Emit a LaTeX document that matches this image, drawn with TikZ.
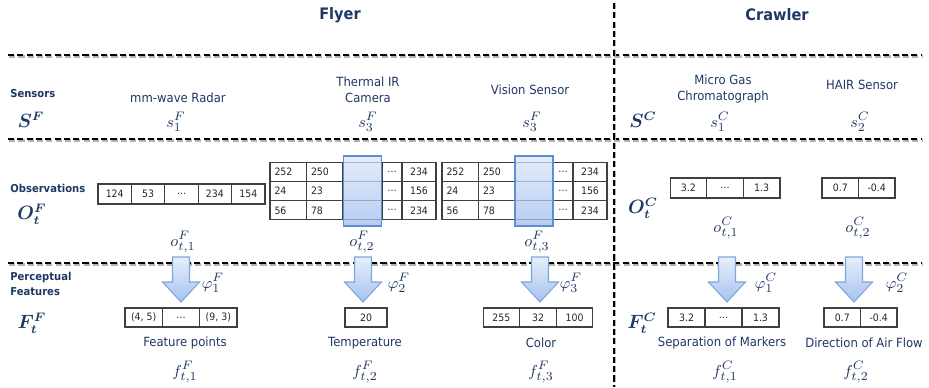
\documentclass[tikz,border=0pt]{standalone}
\usepackage{fontspec}
\setmainfont{DejaVu Sans}[FakeStretch=0.92]
\usepackage{bm}
\usepackage{xcolor}
\usetikzlibrary{arrows.meta,positioning,matrix}

\definecolor{navy}{HTML}{1F3864}
\definecolor{cellline}{HTML}{404040}
\definecolor{hltop}{HTML}{DCE6F8}
\definecolor{hlbot}{HTML}{9DBDEE}
\definecolor{hlline}{HTML}{5E8FD6}
\definecolor{arrtop}{HTML}{E6EEFA}
\definecolor{arrbot}{HTML}{A6C3EE}
\definecolor{arrline}{HTML}{7EA6DD}

\begin{document}
\begin{tikzpicture}[x=0.02cm, y=-0.02cm,
  every node/.style={text=navy, font=\fontsize{7.2}{9}\selectfont},
  head/.style={font=\fontsize{9}{11}\selectfont\bfseries},
  rowlbl/.style={font=\fontsize{6.2}{8.4}\selectfont\bfseries, anchor=west, align=left, inner sep=0pt},
  sym/.style={font=\fontsize{9.5}{10}\selectfont, inner sep=0.5pt},
  bigsym/.style={font=\fontsize{10.5}{12}\selectfont, inner sep=0.5pt},
  sep/.style={line width=1.4pt, dash pattern=on 3.5pt off 1.8pt},
  valrow/.style={matrix of nodes, column sep=-0.6pt, row sep=-0.6pt,
    nodes={draw=cellline, line width=0.6pt, text=black!85, font=\fontsize{5.8}{6.5}\selectfont,
      minimum height=0.4cm, minimum width=#1, inner sep=0pt, anchor=center}},
  leftcol/.style={nodes={text width=0.55cm, inner xsep=0.09cm, align=left}},
  hilite/.style={draw=hlline, line width=0.6pt, top color=hltop, bottom color=hlbot,
    fill opacity=0.75, minimum width=0.76cm, minimum height=1.4cm, inner sep=0pt},
  featarrow/.style={draw=arrline, line width=0.6pt, top color=arrtop, bottom color=arrbot}
]
\useasboundingbox (0,0) rectangle (929,387);

% separators
\foreach \yy in {55,139,263} {
  \draw[sep, black!30, xshift=0.6pt, yshift=-0.8pt] (8,\yy) -- (922,\yy);
  \draw[sep] (8,\yy) -- (922,\yy);
}
\draw[sep, black!30, xshift=0.6pt] (614,3) -- (614,387);
\draw[sep] (614,3) -- (614,387);

% titles
\node[head] (flyer) at (340,15) {Flyer};
\node[head] (crawler) at (777,15) {Crawler};

% sensors
\node[rowlbl] (senslbl) at (10,94) {Sensors};
\node[bigsym] (sensF) at (31,120) {$\bm{S^F}$};
\node (radarname) at (178,98) {mm-wave Radar};
\node (thermname) at (368,90) [align=center] {Thermal IR\\Camera};
\node (visname) at (530,90) {Vision Sensor};
\node (gasname) at (723,89) [align=center] {Micro Gas\\Chromatograph};
\node (hairname) at (862,85) {HAIR Sensor};
\node[sym] (radarsym) at (176,122) {$s_1^F$};
\node[sym] (thermsym) at (368,122) {$s_3^F$};
\node[sym] (vissym) at (532,122) {$s_3^F$};
\node[bigsym] (sensC) at (643,120) {$\bm{S^C}$};
\node[sym] (gassym) at (720,122) {$s_1^C$};
\node[sym] (hairsym) at (860,122) {$s_2^C$};

% observations
\node[rowlbl] (obslbl) at (10,188) {Observations};
\node[bigsym] (obsF) at (32,214) {$\bm{O_t^F}$};
\matrix (radarobs) at (181.5,194) [valrow=0.668cm] {124 & 53 & … & 234 & 154\\};
\matrix (thermobs) at (353,191) [valrow=0.73cm, nodes in empty cells,
  nodes={minimum height=0.386cm}, column 1/.style={leftcol}, column 2/.style={leftcol},
  column 3/.style={nodes={minimum width=0.78cm}}, column 4/.style={nodes={minimum width=0.4cm}},
  column 5/.style={nodes={minimum width=0.68cm}}] {
  252 & 250 & & … & 234\\
  24 & 23 & & … & 156\\
  56 & 78 & & … & 234\\
};
\matrix (visobs) at (524.5,191) [valrow=0.73cm, nodes in empty cells,
  nodes={minimum height=0.386cm}, column 1/.style={leftcol}, column 2/.style={leftcol},
  column 3/.style={nodes={minimum width=0.76cm}}, column 4/.style={nodes={minimum width=0.4cm}},
  column 5/.style={nodes={minimum width=0.68cm}}] {
  252 & 250 & & … & 234\\
  24 & 23 & & … & 156\\
  56 & 78 & & … & 234\\
};
\node[hilite] (thermsel) at (thermobs-2-3) {};
\node[hilite] (vissel) at (visobs-2-3) {};
\node[sym] (radaro) at (183,242) {$o_{t,1}^F$};
\node[sym] (thermo) at (362,242) {$o_{t,2}^F$};
\node[sym] (viso) at (537,242) {$o_{t,3}^F$};
\node[bigsym] (obsC) at (643,208) {$\bm{O_t^C}$};
\matrix (gasobs) at (725,188) [valrow=0.733cm] {3.2 & … & 1.3\\};
\matrix (hairobs) at (858.5,188) [valrow=0.73cm] {0.7 & -0.4\\};
\node[sym] (gaso) at (726,228) {$o_{t,1}^C$};
\node[sym] (hairo) at (858,228) {$o_{t,2}^C$};

% perceptual features
\node[rowlbl] (featlbl) at (10,284) {Perceptual\\Features};
\node[bigsym] (featF) at (32,323) {$\bm{F_t^F}$};
\node[bigsym] (featC) at (642,323) {$\bm{F_t^C}$};
\foreach \ax/\nm in {181/radar, 363/therm, 540/vis, 727/gas, 854/hair} {
  \coordinate (\nm arr) at (\ax,257);
  \path[featarrow] (\ax-8.5,257) -- (\ax+8.5,257) -- (\ax+8.5,282) -- (\ax+18.5,282)
    -- (\ax,302) -- (\ax-18.5,282) -- (\ax-8.5,282) -- cycle;
}
\node[sym] (radarphi) at (213,283) {$\varphi_1^F$};
\node[sym] (thermphi) at (399,283) {$\varphi_2^F$};
\node[sym] (visphi) at (571,283) {$\varphi_3^F$};
\node[sym] (gasphi) at (766,283) {$\varphi_1^C$};
\node[sym] (hairphi) at (897,283) {$\varphi_2^C$};
\matrix (radarfeat) at (181,317.5) [valrow=0.747cm, nodes={minimum height=0.38cm}] {(4, 5) & … & (9, 3)\\};
\matrix (thermfeat) at (366,317.5) [valrow=0.84cm, nodes={minimum height=0.38cm}] {20\\};
\matrix (visfeat) at (538,317.5) [valrow=0.733cm, nodes={minimum height=0.38cm}] {255 & 32 & 100\\};
\matrix (gasfeat) at (723.5,317.5) [valrow=0.74cm, nodes={minimum height=0.38cm}] {3.2 & … & 1.3\\};
\matrix (hairfeat) at (860.5,317.5) [valrow=0.73cm, nodes={minimum height=0.38cm}] {0.7 & -0.4\\};
\node (radarfname) at (185,343) {Feature points};
\node (thermfname) at (365,343) {Temperature};
\node (visfname) at (541,343) {Color};
\node (gasfname) at (722,343) {Separation of Markers};
\node (hairfname) at (864,343) {Direction of Air Flow};
\node[sym] (radarf) at (185,372) {$f_{t,1}^F$};
\node[sym] (thermf) at (365,372) {$f_{t,2}^F$};
\node[sym] (visf) at (541,372) {$f_{t,3}^F$};
\node[sym] (gasf) at (725,372) {$f_{t,1}^C$};
\node[sym] (hairf) at (856,372) {$f_{t,2}^C$};
\end{tikzpicture}
\end{document}
